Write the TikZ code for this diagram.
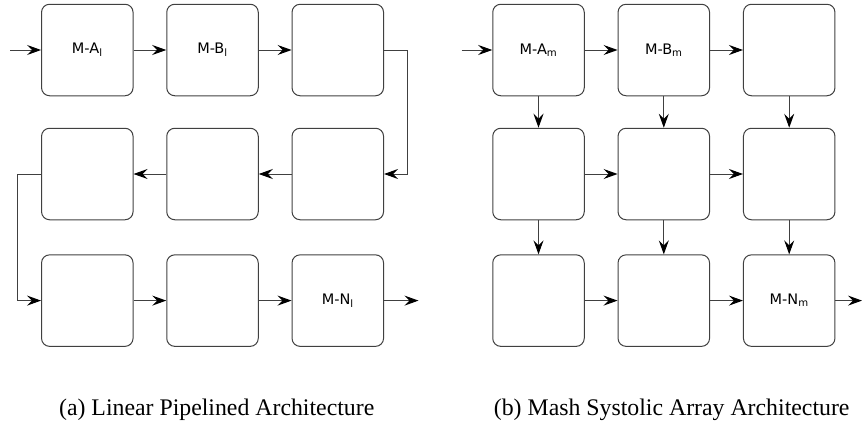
\documentclass[tikz,border=0pt]{standalone}
\usepackage{fontspec}
\setmainfont{Liberation Serif}
\newfontfamily\labelfont{DejaVu Sans}
\usetikzlibrary{arrows.meta}

\begin{document}
\begin{tikzpicture}[x=1pt,y=-1pt,
  pe/.style={draw=black!75, line width=1pt, rounded corners=8pt,
    minimum width=91.5pt, minimum height=91.5pt, inner sep=0pt,
    font=\labelfont\fontsize{14.5}{16}\selectfont},
  flow/.style={draw=black!75, line width=1pt,
    -{Stealth[length=14pt,width=10pt,inset=5pt,black]}},
  caption/.style={font=\fontsize{23.8}{26}\selectfont, anchor=base}]
\useasboundingbox (0,0) rectangle (862,423);

% (a) linear pipeline
\node[pe] (a11) at (87.3,50) {M-A\textsubscript{l}};
\node[pe] (a12) at (212.5,50) {M-B\textsubscript{l}};
\node[pe] (a13) at (337.8,50) {};
\node[pe] (a21) at (87.3,174) {};
\node[pe] (a22) at (212.5,174) {};
\node[pe] (a23) at (337.8,174) {};
\node[pe] (a31) at (87.3,300.6) {};
\node[pe] (a32) at (212.5,300.6) {};
\node[pe] (a33) at (337.8,300.6) {M-N\textsubscript{l}};
\coordinate (ain) at (10,50);
\coordinate (aout) at (418.5,300.6);

\draw[flow] (ain) -- (a11);
\draw[flow] (a11) -- (a12);
\draw[flow] (a12) -- (a13);
\draw[flow] (a13.east) -- ++(23.5,0) |- (a23.east);
\draw[flow] (a23) -- (a22);
\draw[flow] (a22) -- (a21);
\draw[flow] (a21.west) -- ++(-24,0) |- (a31.west);
\draw[flow] (a31) -- (a32);
\draw[flow] (a32) -- (a33);
\draw[flow] (a33) -- (aout);

% (b) mesh systolic array
\node[pe] (b11) at (538.5,50) {M-A\textsubscript{m}};
\node[pe] (b12) at (663.8,50) {M-B\textsubscript{m}};
\node[pe] (b13) at (789.2,50) {};
\node[pe] (b21) at (538.5,174) {};
\node[pe] (b22) at (663.8,174) {};
\node[pe] (b23) at (789.2,174) {};
\node[pe] (b31) at (538.5,300.6) {};
\node[pe] (b32) at (663.8,300.6) {};
\node[pe] (b33) at (789.2,300.6) {M-N\textsubscript{m}};
\coordinate (bin) at (461.7,50);
\coordinate (bout) at (862,300.6);

\draw[flow] (bin) -- (b11);
\draw[flow] (b11) -- (b12);
\draw[flow] (b12) -- (b13);
\draw[flow] (b21) -- (b22);
\draw[flow] (b22) -- (b23);
\draw[flow] (b31) -- (b32);
\draw[flow] (b32) -- (b33);
\draw[flow] (b33) -- (bout);
\foreach \c in {1,2,3}{
  \draw[flow] (b1\c) -- (b2\c);
  \draw[flow] (b2\c) -- (b3\c);
}

% captions
\node[caption] (capa) at (216.7,415.7) {(a) Linear Pipelined Architecture};
\node[caption] (capb) at (671.7,415.7) {(b) Mash Systolic Array Architecture};
\end{tikzpicture}
\end{document}
